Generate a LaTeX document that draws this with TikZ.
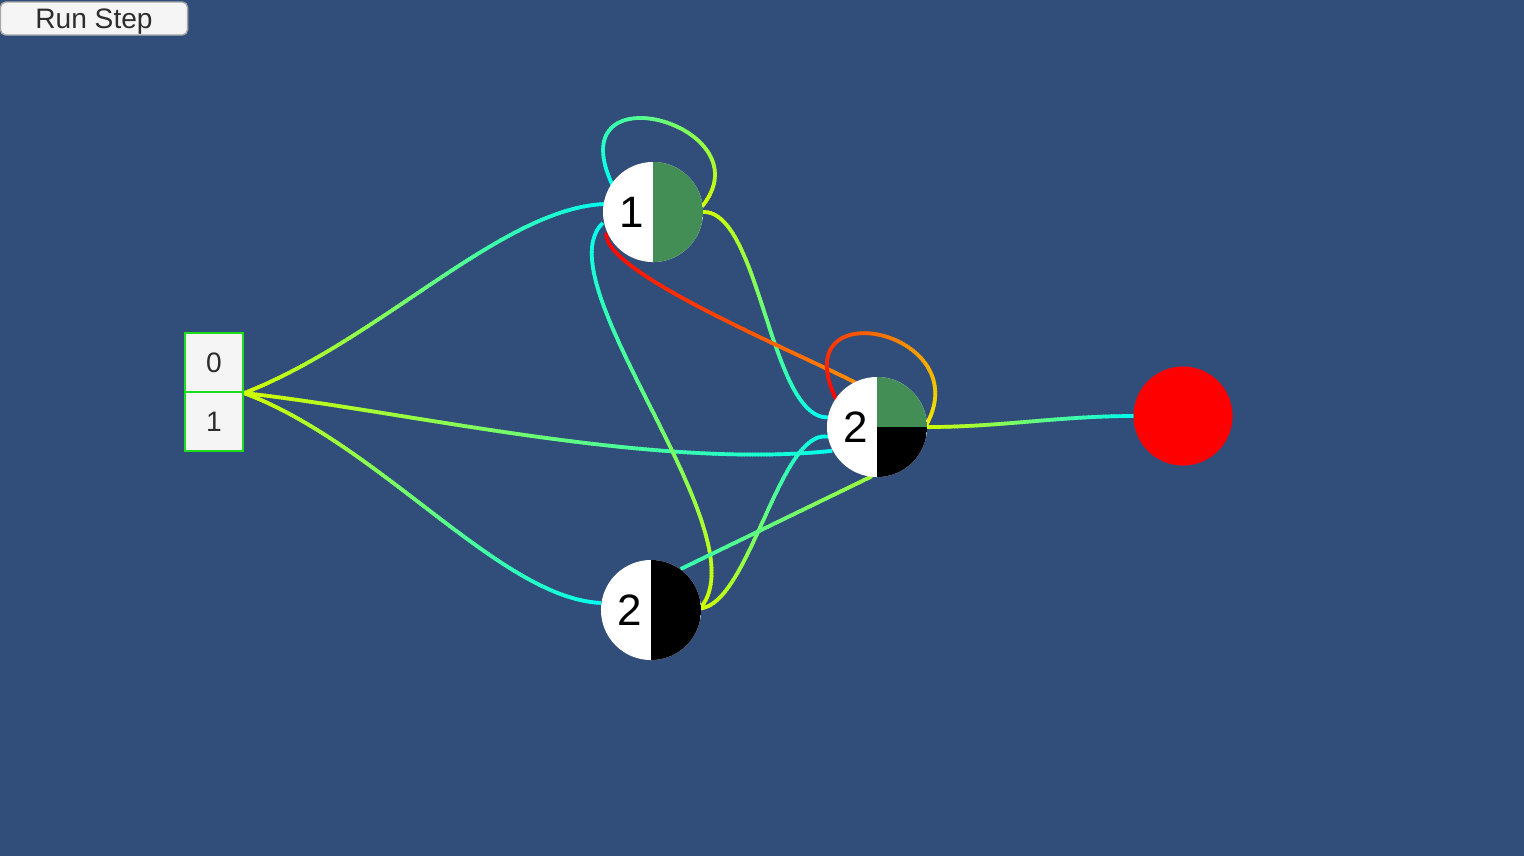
\documentclass[tikz,border=0pt]{standalone}
\usepackage{fontspec}
\setmainfont{Liberation Sans}
\usetikzlibrary{decorations.markings,backgrounds}

\definecolor{bgblue}{RGB}{49,77,121}
\definecolor{cellgreen}{RGB}{67,142,85}
\definecolor{boxgreen}{RGB}{30,220,30}
\definecolor{boxgrey}{RGB}{245,245,245}
\definecolor{textgrey}{RGB}{45,45,45}
\definecolor{wireY}{RGB}{210,255,0}
\definecolor{wireC}{RGB}{0,255,240}
\definecolor{wireR}{RGB}{255,0,0}
\definecolor{wireO}{RGB}{255,140,0}
\definecolor{wireG}{RGB}{240,235,0}
\colorlet{wireL}{wireY!75!wireC}
\colorlet{wireT}{wireC!75!wireY}

\newcommand\cellfont{\fontsize{12.5}{14}\selectfont}

\tikzset{
  wire/.style 2 args={decorate, decoration={markings,
      mark=between positions 0 and 1 step 0.8pt with {
        \pgfmathtruncatemacro\wirepct{100*(\pgfkeysvalueof{/pgf/decoration/mark info/distance from start}/\pgfdecoratedpathlength)}
        \draw[line width=1.05pt, draw=#2!\wirepct!#1] (-0.6pt,0) -- (0.6pt,0);}}},
  cell/.style={circle, fill=white, minimum size=1cm, inner sep=0pt},
  cellhalf/.style={cell, path picture={
      \fill[#1] (path picture bounding box.north) rectangle (path picture bounding box.south east);}},
  cellquarter/.style={cell, path picture={
      \fill[cellgreen] (path picture bounding box.north) rectangle (path picture bounding box.east);
      \fill[black] (path picture bounding box.center) rectangle (path picture bounding box.south east);}},
  celltext/.style={label={[xshift=-0.21cm, font=\cellfont]center:#1}},
  inbox/.style={draw=boxgreen, line width=0.6pt, fill=boxgrey, minimum width=0.58cm,
      minimum height=0.59cm, inner sep=0pt, text=textgrey, font=\fontsize{8}{9}\selectfont},
  runbtn/.style={draw=gray!70, fill=boxgrey, rounded corners=1.5pt, minimum width=1.87cm,
      minimum height=0.33cm, inner sep=0pt, text depth=0pt, text=textgrey, font=\fontsize{8}{9}\selectfont}
}

\begin{document}
\begin{tikzpicture}[x=0.01cm, y=-0.01cm]
    \useasboundingbox (0,0) rectangle (1524,856);

    \node[runbtn] (run) at (94,18.5) {Run Step};

    \node[inbox] (in0) at (214,362.5) {0};
    \node[inbox] (in1) at (214,421.5) {1};

    \node[cellhalf=cellgreen, celltext=1] (n1) at (653,212) {};
    \node[cellquarter, celltext=2] (n2) at (877,427) {};
    \node[cellhalf=black, celltext=2] (n3) at (651,610) {};
    \node[circle, fill=wireR, minimum size=0.99cm] (outr) at (1183,416) {};

    \begin{scope}[on background layer]
        \fill[bgblue] (0,0) rectangle (1524,856);

        \path[wire={wireY}{wireC}] (in0.south east) .. controls (380,340) and (500,210) .. (n1.171);
        \path[wire={wireY}{wireC}] (in0.south east) .. controls (400,410) and (650,470) .. (n2.208);
        \path[wire={wireY}{wireC}] (in0.south east) .. controls (380,444) and (500,598) .. (n3.172);

        \path[wire={wireY}{wireC}] (n1.east) .. controls (760,212) and (770,417) .. (n2.169);
        \path[wire={wireY}{wireC}] (n1.8) .. controls (765,125) and (560,68) .. (n1.145);

        \path[wire={wireY}{wireC}] (n3.4) .. controls (760,530) and (540,280) .. (n1.192);
        \path[wire={wireY}{wireC}] (n3.2) .. controls (750,600) and (780,430) .. (n2.191);

        \path[wire={wireO}{wireR}] (n2.117) .. controls (780,345) and (600,270) .. (n1.204);
        \path[wire={wireG}{wireR}] (n2.5) .. controls (975,330) and (785,290) .. (n2.145);
        \path[wire={wireL}{wireT}] (n2.262) -- (n3.54);
        \path[wire={wireY}{wireC}] (n2.east) .. controls (1000,427) and (1060,416) .. (outr.west);
    \end{scope}
\end{tikzpicture}
\end{document}
